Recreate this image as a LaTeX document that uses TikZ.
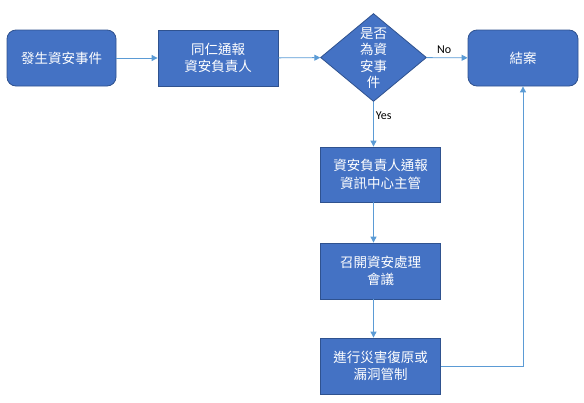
\documentclass[tikz,border=0pt]{standalone}
\usepackage{fontspec}
\setmainfont{Carlito}
\newfontfamily\cjk{Noto Sans CJK TC}
\usetikzlibrary{shapes.geometric,arrows.meta}
\definecolor{boxfill}{HTML}{4472C4}
\definecolor{boxline}{HTML}{2F528F}
\definecolor{arrowc}{HTML}{5B9BD5}
\begin{document}
\begin{tikzpicture}[x=1pt,y=-1pt,
  proc/.style={draw=boxline, line width=0.8pt, fill=boxfill, text=white, align=center,
    font=\cjk\fontsize{13.5}{17.5}\selectfont, inner sep=0pt, minimum width=120pt, minimum height=56pt},
  term/.style={proc, rounded corners=9pt},
  dec/.style={draw=boxline, line width=0.8pt, fill=boxfill, diamond, inner sep=0pt,
    minimum width=106pt, minimum height=88pt},
  dectext/.style={text=white, align=center, font=\cjk\fontsize{13.5}{16.5}\selectfont, inner sep=0pt},
  flow/.style={draw=arrowc, line width=0.9pt, -{Triangle[width=6pt,length=6pt]}},
  lbl/.style={font=\fontsize{12}{14}\selectfont, text=black, inner sep=0pt}]
\useasboundingbox (0,0) rectangle (584,402);
\node[term, minimum width=109pt] (start) at (61.5,58) {發生資安事件};
\node[proc] (notify) at (218,58) {同仁通報\\資安負責人};
\node[dec] (dia) at (373.5,57.5) {};
\node[dectext] (diat) at (373.5,58) {是否\\為資\\安事\\件};
\node[term, minimum width=110pt] (done) at (523,58) {結案};
\node[proc, minimum height=55pt] (b3) at (380.5,174.5) {資安負責人通報\\資訊中心主管};
\node[proc] (b4) at (380.5,271) {召開資安處理\\會議};
\node[proc] (b5) at (380.5,366) {進行災害復原或\\漏洞管制};
\coordinate (turn) at (523,366);
\draw[flow] (start) -- (notify);
\draw[flow] (notify) -- (dia);
\draw[flow] (dia) -- node[lbl, above=4pt, xshift=-3pt] (no) {No} (done);
\draw[flow] (dia.south) -- node[lbl, pos=0.3, right, xshift=2pt] (yes) {Yes} (dia.south |- b3.north);
\draw[flow] (dia.south |- b3.south) -- (dia.south |- b4.north);
\draw[flow] (dia.south |- b4.south) -- (dia.south |- b5.north);
\draw[flow] (b5.east |- turn) -- (turn) -- (done.south);
\end{tikzpicture}
\end{document}
